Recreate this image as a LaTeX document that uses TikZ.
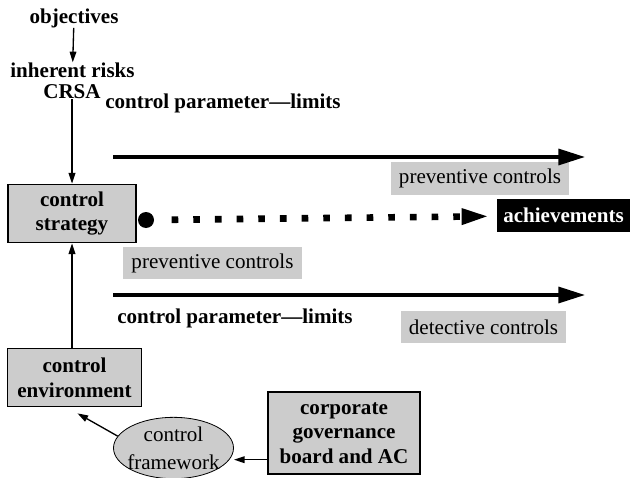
\documentclass[tikz,border=0pt]{standalone}
\usepackage{fontspec}
\setmainfont{Liberation Serif}
\usetikzlibrary{arrows.meta,shapes.geometric}
\definecolor{boxgray}{gray}{0.8}

\begin{document}
\begin{tikzpicture}[x=0.75pt,y=-0.75pt,font=\fontsize{15.8}{18.5}\selectfont]
	\tikzstyle{box} = [draw=black, line width=0.8pt, fill=boxgray, align=center, inner sep=0pt, font=\fontsize{15.8}{18.5}\selectfont\bfseries]
	\tikzstyle{tag} = [fill=boxgray, inner xsep=6pt, inner ysep=0pt, minimum height=24.5pt]
	\tikzstyle{word} = [inner sep=0pt, font=\fontsize{15.8}{18.5}\selectfont\bfseries]
	\tikzstyle{thin edge} = [draw=black, line width=1pt, -{Triangle[length=8pt,width=5pt]}]
	\tikzstyle{thick edge} = [draw=black, line width=2.5pt, -{Triangle[length=20pt,width=12pt]}]
	\tikzstyle{dot edge} = [draw=black, line width=5pt, dash pattern=on 5pt off 11.25pt, -{Triangle[length=21pt,width=11pt]}]
	\useasboundingbox (0,0) rectangle (630,477);
		\node[word] (obj)  at (74,18)   {objectives};
		\node[word] (inh)  at (72.5,70) {inherent risks};
		\node[word] (crsa) at (72,92)   {CRSA};
		\node[word, anchor=west] (par1) at (105,103) {control parameter---limits};
		\node[box, minimum width=96pt, minimum height=44pt] (strat) at (72,213.5) {control\\strategy};
		\node[box, minimum width=100pt, minimum height=44pt] (env) at (74.5,377.5) {control\\environment};
		\node[box, minimum width=114pt, minimum height=61.5pt] (corp) at (344,433) {corporate\\governance\\board and AC};
		\node[draw=black, line width=0.6pt, fill=boxgray, ellipse, align=center, inner sep=-12pt,
		      minimum width=90pt, minimum height=46pt, font=\fontsize{15.8}{21}\selectfont] (fw) at (173.5,448) {control\\framework};
		\node[tag] (prev1) at (480,178.5) {preventive controls};
		\node[tag] (prev2) at (212.5,263) {preventive controls};
		\node[tag] (det)   at (483.5,327) {detective controls};
		\node[fill=black, text=white, inner xsep=5pt, inner ysep=0pt, minimum height=25pt, minimum width=100pt,
		      font=\fontsize{15.8}{18.5}\selectfont\bfseries] (achv) at (563.5,215.5) {achievements};
		\node[word, anchor=west] (par2) at (117,318) {control parameter---limits};
		\node[circle, fill=black, inner sep=0pt, minimum size=12pt] (dot) at (146,220) {};
		\coordinate (a1) at (113,157);
		\coordinate (b1) at (585,157);
		\coordinate (a2) at (113,295);
		\coordinate (b2) at (585,295);
	\draw[thin edge] (obj) -- (inh);
	\draw[thin edge] (crsa) -- (strat);
	\draw[thin edge] (strat.south |- env.north) -- (strat.south);
	\draw[thin edge] (fw.168) -- ([shift={(3,6)}]env.south);
	\draw[thin edge] ([yshift=-20pt]corp.west) -- ([yshift=-20pt]corp.west -| fw.east);
	\draw[thick edge] (a1) -- (b1);
	\draw[thick edge] (a2) -- (b2);
	\draw[dot edge, shorten <=13, shorten >=5] (dot) -- (achv);
	\end{tikzpicture}
\end{document}
